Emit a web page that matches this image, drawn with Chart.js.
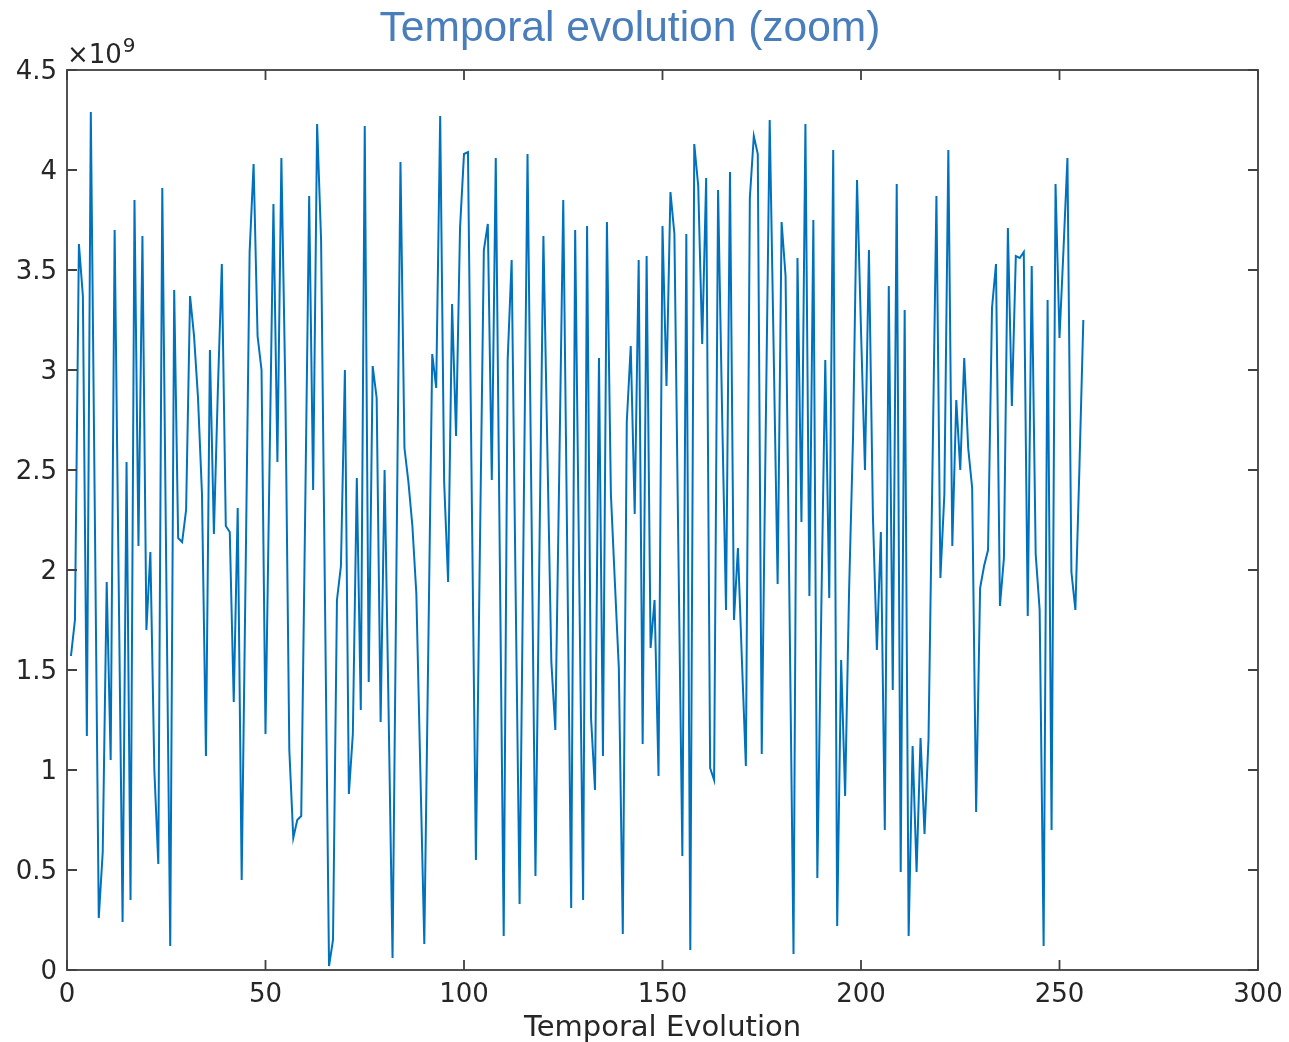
<!DOCTYPE html>
<html>
<head>
<meta charset="utf-8">
<script src="https://cdn.jsdelivr.net/npm/chart.js@4/dist/chart.umd.min.js"></script>
<style>
  html, body { margin: 0; padding: 0; background: #ffffff; }
  #wrap { width: 1289px; height: 1042px; position: relative; }
</style>
</head>
<body>
<div id="wrap"><canvas id="c" width="1289" height="1042"></canvas></div>
<script>
// ---- Data (values in units of 10^9) ----
const chartTitle = "Temporal evolution (zoom)";
const xAxisTitle = "Temporal Evolution";
const exponentBase = "\u00d710";
const exponentPower = "9";
const xTickValues = [0, 50, 100, 150, 200, 250, 300];
const yTickValues = [0, 0.5, 1, 1.5, 2, 2.5, 3, 3.5, 4, 4.5];
const sampleIndex = Array.from({length: 256}, (_, i) => i + 1); // 1..256
const seriesValues = [
  1.57, 1.75, 3.63, 3.37, 1.17, 4.29, 2.30, 0.26, 0.59, 1.94,
  1.05, 3.70, 1.97, 0.24, 2.54, 0.35, 3.85, 2.12, 3.67, 1.70,
  2.09, 1.00, 0.53, 3.91, 2.00, 0.12, 3.40, 2.16, 2.14, 2.30,
  3.37, 3.17, 2.86, 2.38, 1.07, 3.10, 2.18, 2.90, 3.53, 2.22,
  2.19, 1.34, 2.31, 0.45, 2.00, 3.59, 4.03, 3.17, 3.00, 1.18,
  2.50, 3.83, 2.54, 4.06, 2.90, 1.10, 0.66, 0.75, 0.77, 2.30,
  3.87, 2.40, 4.23, 3.65, 1.82, 0.02, 0.15, 1.85, 2.02, 3.00,
  0.88, 1.18, 2.46, 1.30, 4.22, 1.44, 3.02, 2.86, 1.24, 2.50,
  1.30, 0.06, 2.05, 4.04, 2.61, 2.44, 2.22, 1.88, 1.00, 0.13,
  1.60, 3.08, 2.91, 4.27, 2.44, 1.94, 3.33, 2.67, 3.71, 4.08,
  4.09, 2.30, 0.55, 2.10, 3.60, 3.73, 2.45, 4.06, 2.10, 0.17,
  3.05, 3.55, 1.90, 0.33, 2.20, 4.08, 2.30, 0.47, 2.10, 3.67,
  2.60, 1.54, 1.20, 2.50, 3.85, 2.10, 0.31, 3.70, 2.00, 0.35,
  3.72, 1.26, 0.90, 3.06, 1.07, 3.74, 2.38, 1.94, 1.51, 0.18,
  2.74, 3.12, 2.28, 3.55, 1.13, 3.57, 1.61, 1.85, 0.97, 3.72,
  2.92, 3.89, 3.68, 2.10, 0.57, 3.68, 0.10, 4.13, 3.92, 3.13,
  3.96, 1.01, 0.95, 3.90, 2.80, 1.80, 3.99, 1.75, 2.11, 1.55,
  1.02, 3.86, 4.17, 4.08, 1.08, 2.70, 4.25, 3.10, 1.93, 3.74,
  3.47, 1.80, 0.08, 3.56, 2.24, 4.23, 1.87, 3.75, 0.46, 1.80,
  3.05, 1.86, 4.10, 0.22, 1.55, 0.87, 1.90, 2.67, 3.95, 3.20,
  2.50, 3.60, 2.27, 1.60, 2.19, 0.70, 3.42, 1.40, 3.93, 0.49,
  3.30, 0.17, 1.12, 0.49, 1.16, 0.68, 1.15, 2.50, 3.87, 1.96,
  2.38, 4.10, 2.12, 2.85, 2.50, 3.06, 2.61, 2.41, 0.79, 1.91,
  2.02, 2.10, 3.31, 3.53, 1.82, 2.06, 3.71, 2.82, 3.57, 3.56,
  3.59, 1.77, 3.52, 2.08, 1.80, 0.12, 3.35, 0.70, 3.93, 3.16,
  3.60, 4.06, 1.99, 1.80, 2.50, 3.25
];

const TEXT = '#262626';
const AXIS = '#404040';

const points = sampleIndex.map((x, i) => ({x: x, y: seriesValues[i]}));

// Box, inward ticks, title and exponent label (positions from the library's scales)
const matlabFrame = {
  id: 'matlabFrame',
  afterDraw(chart) {
    const ctx = chart.ctx;
    const a = chart.chartArea;
    const xs = chart.scales.x, ys = chart.scales.y;
    const tl = 10;
    ctx.save();
    ctx.strokeStyle = AXIS;
    ctx.lineWidth = 1.8;
    ctx.strokeRect(a.left, a.top, a.right - a.left, a.bottom - a.top);
    ctx.beginPath();
    xTickValues.forEach(v => {
      const px = xs.getPixelForValue(v);
      ctx.moveTo(px, a.bottom); ctx.lineTo(px, a.bottom - tl);
      ctx.moveTo(px, a.top); ctx.lineTo(px, a.top + tl);
    });
    yTickValues.forEach(v => {
      const py = ys.getPixelForValue(v);
      ctx.moveTo(a.left, py); ctx.lineTo(a.left + tl, py);
      ctx.moveTo(a.right, py); ctx.lineTo(a.right - tl, py);
    });
    ctx.stroke();

    // exponent label
    ctx.fillStyle = TEXT;
    ctx.textAlign = 'left';
    ctx.textBaseline = 'alphabetic';
    ctx.font = '26px "DejaVu Sans"';
    ctx.fillText(exponentBase, a.left, a.top - 7);
    const w = ctx.measureText(exponentBase).width;
    ctx.font = '20px "DejaVu Sans"';
    ctx.fillText(exponentPower, a.left + w + 1, a.top - 18);

    // chart title
    ctx.fillStyle = '#4a7ebb';
    ctx.textAlign = 'center';
    ctx.font = '42.5px "Liberation Sans", Arial, sans-serif';
    ctx.fillText(chartTitle, 630, 41);
    ctx.restore();
  }
};

new Chart(document.getElementById('c'), {
  type: 'line',
  data: {
    datasets: [{
      data: points,
      borderColor: '#0072BD',
      borderWidth: 2,
      pointRadius: 0,
      tension: 0,
      fill: false
    }]
  },
  options: {
    responsive: false,
    animation: false,
    devicePixelRatio: 1,
    layout: { padding: { left: 0, right: 0, top: 70, bottom: 0 } },
    plugins: { legend: { display: false }, tooltip: { enabled: false }, title: { display: false } },
    scales: {
      x: {
        type: 'linear',
        min: 0, max: 300,
        afterBuildTicks(scale) { scale.ticks = xTickValues.map(v => ({value: v})); },
        afterFit(scale) { scale.height = 72; scale.paddingRight = 31; scale.paddingLeft = 0; },
        grid: { display: false, drawTicks: false },
        border: { display: false },
        ticks: {
          color: TEXT,
          font: { family: 'DejaVu Sans', size: 26 },
          padding: 10,
          maxRotation: 0,
          autoSkip: false,
          callback: v => String(v)
        },
        title: {
          display: true,
          text: xAxisTitle,
          color: TEXT,
          font: { family: 'DejaVu Sans', size: 29 },
          padding: { top: 0, bottom: -4 }
        }
      },
      y: {
        type: 'linear',
        min: 0, max: 4.5,
        afterBuildTicks(scale) { scale.ticks = yTickValues.map(v => ({value: v})); },
        afterFit(scale) { scale.width = 67; scale.paddingTop = 0; scale.paddingBottom = 0; },
        grid: { display: false, drawTicks: false },
        border: { display: false },
        ticks: {
          color: TEXT,
          font: { family: 'DejaVu Sans', size: 26 },
          padding: 10,
          labelOffset: 2,
          autoSkip: false,
          callback: v => String(v)
        }
      }
    }
  },
  plugins: [matlabFrame]
});
</script>
</body>
</html>
